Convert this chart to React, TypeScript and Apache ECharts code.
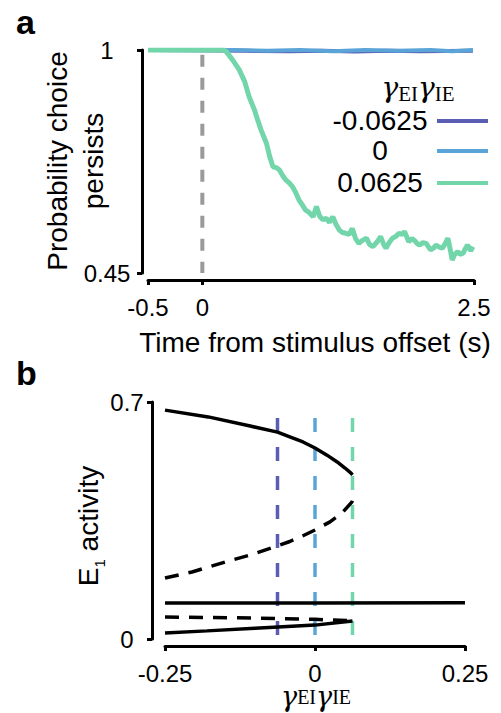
import React, { useEffect, useRef } from 'react';
import * as echarts from 'echarts';

// ---------- Panel a data ----------
const timeTicks = [-0.5, 0, 2.5];
const probTicks = [0.45, 1];
const stimulusOffset = 0;

const greenCurve: number[][] = [
  [-0.5, 1], [0.2, 1], [0.22, 0.996], [0.28, 0.975], [0.34, 0.951], [0.39, 0.922], [0.43, 0.885],
  [0.48, 0.852], [0.51, 0.827], [0.54, 0.803], [0.59, 0.77], [0.62, 0.737], [0.65, 0.712], [0.68, 0.71],
  [0.71, 0.704], [0.74, 0.69], [0.77, 0.679], [0.8, 0.672], [0.83, 0.663], [0.86, 0.648], [0.89, 0.63],
  [0.92, 0.618], [0.95, 0.605], [0.98, 0.6], [1.02, 0.589], [1.05, 0.614], [1.08, 0.59], [1.11, 0.581],
  [1.14, 0.585], [1.17, 0.575], [1.2, 0.589], [1.23, 0.57], [1.26, 0.556], [1.29, 0.55], [1.32, 0.548],
  [1.35, 0.545], [1.38, 0.56], [1.41, 0.535], [1.44, 0.523], [1.47, 0.53], [1.51, 0.536], [1.54, 0.52],
  [1.57, 0.515], [1.61, 0.527], [1.64, 0.54], [1.67, 0.52], [1.69, 0.511], [1.72, 0.525], [1.75, 0.536],
  [1.78, 0.54], [1.81, 0.548], [1.84, 0.545], [1.86, 0.552], [1.88, 0.54], [1.9, 0.527], [1.93, 0.535],
  [1.95, 0.531], [1.98, 0.522], [2.0, 0.519], [2.03, 0.525], [2.06, 0.523], [2.08, 0.515], [2.1, 0.507],
  [2.13, 0.512], [2.15, 0.519], [2.18, 0.514], [2.21, 0.511], [2.24, 0.525], [2.26, 0.536], [2.28, 0.51],
  [2.3, 0.482], [2.32, 0.495], [2.35, 0.503], [2.37, 0.496], [2.4, 0.499], [2.42, 0.51], [2.44, 0.519],
  [2.47, 0.505], [2.49, 0.515],
];
const blueCurve: number[][] = [
  [-0.5, 1], [0.3, 1], [0.6, 0.998], [0.9, 1], [1.2, 0.997], [1.5, 1], [1.8, 0.998], [2.1, 1], [2.3, 0.997], [2.49, 1],
];
const purpleCurve: number[][] = [
  [-0.5, 1], [0.4, 0.998], [0.8, 0.997], [1.1, 0.998], [1.4, 0.996], [1.7, 0.998], [2.0, 0.997], [2.49, 0.998],
];

const legendLabels = ['-0.0625', '0', '0.0625'];
const legendColors = ['#5a5db2', '#5aa4d8', '#73d6aa'];

// ---------- Panel b data ----------
const gammaTicks = [-0.25, 0, 0.25];
const activityTicks = [0, 0.7];
const gammaMarkers = [-0.0625, 0, 0.0625];
const markerTop = 0.653;

const upperStable: number[][] = [
  [-0.25, 0.676], [-0.178, 0.656], [-0.108, 0.629], [-0.0625, 0.611], [-0.042, 0.597], [-0.02, 0.582],
  [0, 0.564], [0.02, 0.543], [0.037, 0.523], [0.05, 0.505], [0.06, 0.49], [0.0625, 0.485],
];
const middleUnstable: number[][] = [
  [-0.25, 0.18], [-0.205, 0.198], [-0.147, 0.229], [-0.108, 0.248], [-0.0625, 0.275], [-0.042, 0.288],
  [-0.02, 0.305], [0, 0.322], [0.025, 0.346], [0.045, 0.372], [0.0617, 0.405], [0.0625, 0.41],
];
const flatStable: number[][] = [[-0.25, 0.106], [0, 0.106], [0.25, 0.107]];
const lowerUnstable: number[][] = [[-0.25, 0.065], [-0.1, 0.062], [0, 0.058], [0.0625, 0.054]];
const lowerStable: number[][] = [[-0.25, 0.018], [-0.18, 0.024], [-0.1, 0.032], [0, 0.041], [0.0625, 0.053]];

const FONT = 'Liberation Sans';

function axisCommon(ticks: number[], margin: number, align?: string) {
  return {
    type: 'value',
    splitLine: { show: false },
    axisLine: { show: true, onZero: false, lineStyle: { color: '#000', width: 3 } },
    axisTick: { show: true, customValues: ticks, length: 5, lineStyle: { color: '#000', width: 3 } },
    axisLabel: {
      customValues: ticks,
      margin,
      fontSize: 24,
      color: '#000',
      fontFamily: FONT,
      ...(align ? { align } : {}),
      formatter: (v: number) => String(v),
    },
  };
}

export default function App() {
  const ref = useRef<HTMLDivElement>(null);
  useEffect(() => {
    if (!ref.current) return;
    const chart = echarts.init(ref.current, undefined, { renderer: 'svg' });
    const line = (data: number[][], color: string, width: number, xi: number, dash?: number[]) => ({
      type: 'line',
      xAxisIndex: xi,
      yAxisIndex: xi,
      data,
      showSymbol: false,
      symbol: 'none',
      silent: true,
      lineStyle: { color, width, type: dash ? dash : 'solid', cap: 'butt' },
    });
    const series: any[] = [];
    series.push(line([[stimulusOffset, 0.988], [stimulusOffset, 0.45]], '#9a9a9a', 4, 0, [12, 11]));
    series.push(line(purpleCurve, legendColors[0], 4, 0));
    series.push(line(blueCurve, legendColors[1], 4, 0));
    series.push(line(greenCurve, legendColors[2], 5, 0));
    gammaMarkers.forEach((g, i) => {
      series.push(line([[g, markerTop], [g, 0]], legendColors[i], 3.5, 1, [14, 15]));
    });
    series.push(line(upperStable, '#000', 3.5, 1));
    series.push(line(middleUnstable, '#000', 3.5, 1, [14, 10]));
    series.push(line(flatStable, '#000', 3.5, 1));
    series.push(line(lowerUnstable, '#000', 3.5, 1, [14, 10]));
    series.push(line(lowerStable, '#000', 3.5, 1));

    const gammaRich = {
      g: { fontSize: 28, fontStyle: 'italic', fontFamily: 'DejaVu Serif', lineHeight: 34, color: '#111' },
      s: { fontSize: 21, fontFamily: 'Liberation Serif', verticalAlign: 'bottom', lineHeight: 22, color: '#111' },
    };
    const gammaRichSmall = {
      g: { fontSize: 27, fontStyle: 'italic', fontFamily: 'DejaVu Serif', lineHeight: 22, color: '#111' },
      s: { fontSize: 20, fontFamily: 'Liberation Serif', verticalAlign: 'bottom', lineHeight: 12, color: '#111' },
    };
    const gammaText = '{g|γ}{s|EI}{g|γ}{s|IE}';

    const graphics: any[] = [
      { type: 'text', x: 16, y: 22, style: { text: 'a', font: `bold 34px ${FONT}`, fill: '#000', align: 'left', verticalAlign: 'middle' } },
      { type: 'text', x: 16, y: 373, style: { text: 'b', font: `bold 34px ${FONT}`, fill: '#000', align: 'left', verticalAlign: 'middle' } },
      { type: 'text', x: 57, y: 161, rotation: Math.PI / 2, style: { text: 'Probability choice', font: `28px ${FONT}`, fill: '#000', align: 'center', verticalAlign: 'middle' } },
      { type: 'text', x: 93, y: 161, rotation: Math.PI / 2, style: { text: 'persists', font: `28px ${FONT}`, fill: '#000', align: 'center', verticalAlign: 'middle' } },
      { type: 'text', x: 315, y: 342, style: { text: 'Time from stimulus offset (s)', font: `28px ${FONT}`, fill: '#000', align: 'center', verticalAlign: 'middle' } },
      {
        type: 'text', x: 88, y: 526, rotation: Math.PI / 2,
        style: {
          text: '{e|E}{s|1}{t| activity}', align: 'center', verticalAlign: 'middle',
          rich: {
            e: { fontSize: 28, fontFamily: FONT, lineHeight: 38, color: '#000' },
            s: { fontSize: 15, fontFamily: FONT, lineHeight: 16, verticalAlign: 'bottom', color: '#000' },
            t: { fontSize: 28, fontFamily: FONT, lineHeight: 38, color: '#000' },
          },
        },
      },
      { type: 'text', x: 418, y: 87, style: { text: gammaText, rich: gammaRich, align: 'center', verticalAlign: 'middle' } },
      { type: 'text', x: 316, y: 696, style: { text: gammaText, rich: gammaRichSmall, align: 'center', verticalAlign: 'middle' } },
    ];
    const legendY = [121, 151, 183];
    legendLabels.forEach((lab, i) => {
      graphics.push({ type: 'text', x: 380, y: legendY[i] - 1, style: { text: lab, font: `28px ${FONT}`, fill: '#000', align: 'center', verticalAlign: 'middle' } });
      graphics.push({ type: 'line', shape: { x1: 437, y1: legendY[i], x2: 488, y2: legendY[i] }, style: { stroke: legendColors[i], lineWidth: 4 } });
    });

    chart.setOption({
      animation: false,
      grid: [
        { left: 148, top: 50, width: 326, height: 223 },
        { left: 165, top: 402, width: 300, height: 237 },
      ],
      xAxis: [
        { gridIndex: 0, min: -0.5, max: 2.5, offset: 7, ...axisCommon(timeTicks, 15) },
        { gridIndex: 1, min: -0.25, max: 0.25, offset: 7, ...axisCommon(gammaTicks, 15) },
      ],
      yAxis: [
        { gridIndex: 0, min: 0.45, max: 1, offset: 6, ...axisCommon(probTicks, 35, 'center') },
        { gridIndex: 1, min: 0, max: 0.7, offset: 13, ...axisCommon(activityTicks, 25, 'center') },
      ],
      series,
      graphic: graphics,
    });
    return () => chart.dispose();
  }, []);
  return <div ref={ref} style={{ position: 'absolute', left: 0, top: 0, width: 501, height: 713 }} />;
}
